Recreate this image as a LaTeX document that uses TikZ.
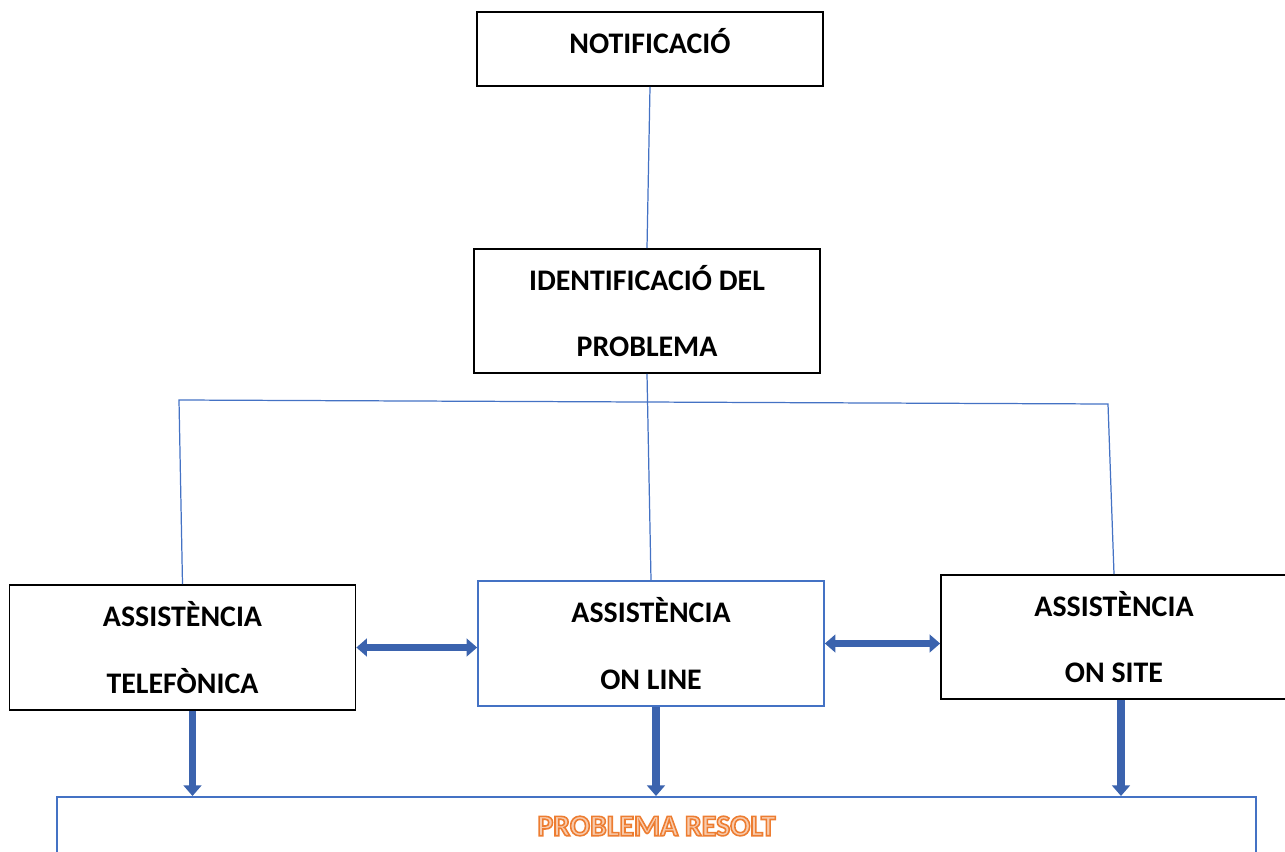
\documentclass[tikz,border=0pt]{standalone}
\usepackage{fontspec}
\setmainfont{Carlito}
\usetikzlibrary{arrows.meta, positioning}
\definecolor{linkblue}{HTML}{4472C4}
\definecolor{arrowblue}{HTML}{3B63AE}
\definecolor{orangefill}{HTML}{F8CBAD}
% outlined text: fill with the current colour, stroke in orange
\newcommand{\outlined}[1]{\special{pdf:literal direct 2 Tr 0.9 w 0.929 0.490 0.192 RG}#1\special{pdf:literal direct 0 Tr}}

\tikzset{
  stage/.style={draw=black, line width=1pt, minimum width=6.92cm, align=center,
    font=\fontsize{17}{38}\selectfont\bfseries},
  tree/.style={draw=linkblue, line width=0.7pt},
  blockarrow/.style={draw=arrowblue, line width=4.5pt},
}

\begin{document}
\begin{tikzpicture}[x=0.02cm, y=-0.02cm]
\useasboundingbox (0,0) rectangle (1285,852);

% boxes
\node[stage, minimum height=1.48cm, text height=11pt, text depth=6pt] (notif) at (650,49) {NOTIFICACIÓ};
\node[stage, minimum height=2.48cm] (ident) at (647,311) {IDENTIFICACIÓ DEL\\PROBLEMA};
\node[stage, minimum height=2.5cm] (tel) at (182.5,647.5) {ASSISTÈNCIA\\TELEFÒNICA};
\node[stage, draw=linkblue, minimum height=2.5cm] (online) at (651,643.5) {ASSISTÈNCIA\\ON LINE};
\node[stage, minimum height=2.48cm] (onsite) at (1114,637) {ASSISTÈNCIA\\ON SITE};
\node[draw=linkblue, line width=1.2pt, minimum width=23.98cm, anchor=north,
  text height=11pt, text depth=2cm, inner ysep=11pt,
  font=\fontsize{17}{20}\selectfont\bfseries] (resolt) at (656.5,796)
  {\textcolor{orangefill}{\outlined{PROBLEMA RESOLT}}};

% tree lines
\coordinate (splitW) at (179,400);
\coordinate (splitE) at (1108,404);
\draw[tree] (notif.south) -- (ident.north);
\draw[tree] (ident.south) -- (online.north);
\draw[tree] (tel.north) -- (splitW) -- (splitE) -- (onsite.north);

% block arrows
\draw[blockarrow, {Triangle[width=10pt,length=6pt]}-{Triangle[width=10pt,length=6pt]}]
  (tel.east) -- (tel.east -| online.west);
\draw[blockarrow, {Triangle[width=10pt,length=6pt]}-{Triangle[width=10pt,length=6pt]}]
  (online.east) -- (online.east -| onsite.west);
\draw[blockarrow, -{Triangle[width=10pt,length=6pt]}]
  ([xshift=0.2cm]tel.south) -- ([xshift=0.2cm]tel.south |- resolt.north);
\draw[blockarrow, -{Triangle[width=10pt,length=6pt]}]
  ([xshift=0.1cm]online.south) -- ([xshift=0.1cm]online.south |- resolt.north);
\draw[blockarrow, -{Triangle[width=10pt,length=6pt]}]
  ([xshift=0.14cm]onsite.south) -- ([xshift=0.14cm]onsite.south |- resolt.north);
\end{tikzpicture}
\end{document}
